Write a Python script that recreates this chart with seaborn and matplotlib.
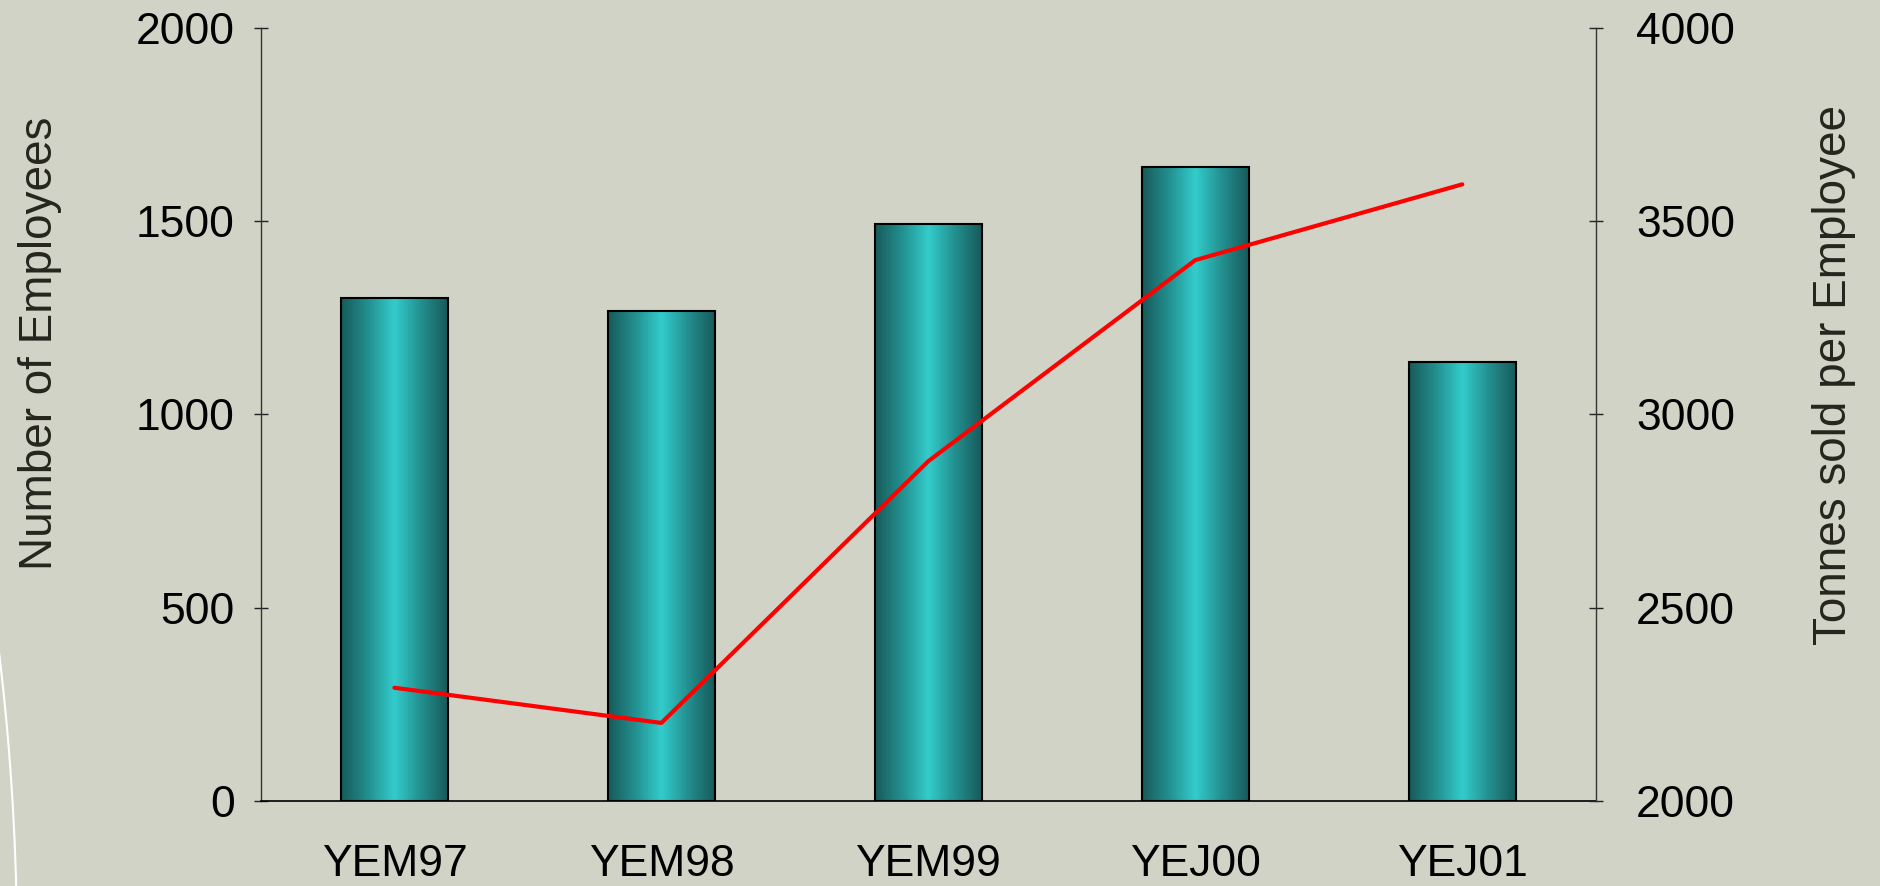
import numpy as np
import pandas as pd
import matplotlib
matplotlib.use("Agg")
import matplotlib.pyplot as plt
from matplotlib.colors import LinearSegmentedColormap
from matplotlib.patches import Circle
import seaborn as sns

# Data
categories = ["YEM97", "YEM98", "YEM99", "YEJ00", "YEJ01"]
employees = [1302, 1268, 1492, 1641, 1135]
tonnes_per_employee = [2293, 2202, 2879, 3399, 3595]

left_ticks = [0, 500, 1000, 1500, 2000]
right_ticks = [2000, 2500, 3000, 3500, 4000]

BG = "#D1D3C6"
LABEL_COLOR = "#25251e"
TICK_SIZE = 32
LABEL_SIZE = 33

sns.set_theme(style="white")
plt.rcParams["font.family"] = ["Liberation Sans", "DejaVu Sans"]

fig = plt.figure(figsize=(18.8, 8.86), dpi=100, facecolor=BG)
ax = fig.add_axes([0.1388, 0.0959, 0.7100, 0.8728])
ax.set_facecolor(BG)

df = pd.DataFrame({"period": categories, "employees": employees})
sns.barplot(data=df, x="period", y="employees", ax=ax, width=0.4,
            color="#33cccc", edgecolor="black", linewidth=1.5, zorder=3)

# cylinder-like horizontal gradient inside every bar
teal = LinearSegmentedColormap.from_list(
    "teal", ["#185a5a", "#238f8f", "#33cccc", "#238f8f", "#185a5a"])
grad = np.linspace(0, 1, 256).reshape(1, -1)
for bar in ax.patches:
    x0, y0 = bar.get_x(), bar.get_y()
    w, h = bar.get_width(), bar.get_height()
    img = ax.imshow(grad, extent=[x0, x0 + w, y0, y0 + h], aspect="auto",
                    cmap=teal, zorder=2.5, interpolation="bicubic")
    img.set_clip_path(bar)
    bar.set_facecolor("none")

ax.set_xlim(-0.5, len(categories) - 0.5)
ax.set_ylim(0, 2000)
ax.set_yticks(left_ticks)
ax.set_xticks(np.arange(len(categories) + 1) - 0.5)
ax.set_xticklabels([])
ax.set_xticks(np.arange(len(categories)), minor=True)
ax.set_xticklabels(categories, minor=True)
ax.tick_params(axis="x", which="major", direction="inout", length=13, width=1, color="black")
ax.tick_params(axis="x", which="minor", length=0, pad=31, labelsize=TICK_SIZE, labelcolor="black")
ax.tick_params(axis="y", direction="inout", length=10, width=1, color="#222222",
               pad=14, labelsize=TICK_SIZE, labelcolor="black", left=True)
ax.set_xlabel("")
ax.set_ylabel("Number of Employees", fontsize=LABEL_SIZE, color=LABEL_COLOR)
ax.yaxis.set_label_coords(-0.1493, 0.592)
for side in ["top", "right"]:
    ax.spines[side].set_visible(False)
ax.spines["left"].set_color("#333333")
ax.spines["left"].set_linewidth(1)
ax.spines["bottom"].set_color("black")
ax.spines["bottom"].set_linewidth(1.2)

ax2 = ax.twinx()
sns.lineplot(x=np.arange(len(categories)), y=tonnes_per_employee, ax=ax2,
             color="#ff0000", linewidth=3, sort=False)
ax2.set_ylim(2000, 4000)
ax2.set_yticks(right_ticks)
ax2.tick_params(axis="y", direction="inout", length=10, width=1, color="#222222",
                pad=24, labelsize=TICK_SIZE, labelcolor="black", right=True)
ax2.set_ylabel("Tonnes sold per Employee", fontsize=LABEL_SIZE, color=LABEL_COLOR)
ax2.yaxis.set_label_coords(1.162, 0.551)
for side in ["top", "left", "bottom"]:
    ax2.spines[side].set_visible(False)
ax2.spines["right"].set_color("#333333")
ax2.spines["right"].set_linewidth(1)

# decorative white arc of the slide background
fig.add_artist(Circle((-24.57, -0.64), 24.74, transform=fig.dpi_scale_trans,
                      fill=False, edgecolor="white", linewidth=1.5))

fig.savefig("out.png", dpi=100, facecolor=BG)
